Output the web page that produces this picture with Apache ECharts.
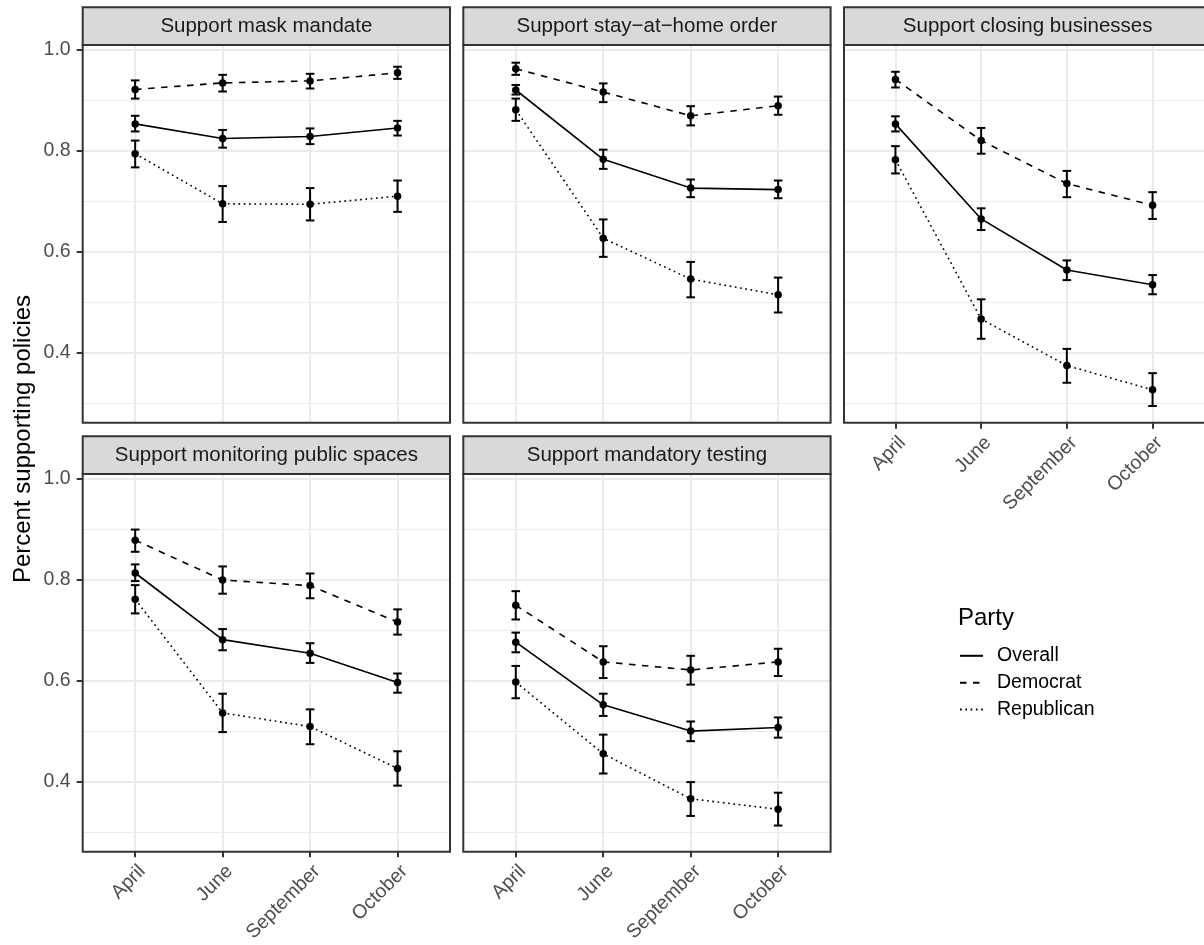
<!DOCTYPE html>
<html><head><meta charset="utf-8">
<script src="https://cdn.jsdelivr.net/npm/echarts@6/dist/echarts.min.js"></script>
<style>html,body{margin:0;padding:0;background:#fff;}#c{width:1204px;height:945px;}</style>
</head><body><div id="c"></div>
<script>
// ---------------- data ----------------
const months = ['April', 'June', 'September', 'October'];
const panelTitles = ['Support mask mandate', 'Support stay\u2212at\u2212home order', 'Support closing businesses',
  'Support monitoring public spaces', 'Support mandatory testing'];
const parties = ['Overall', 'Democrat', 'Republican'];
const yTicks = [0.4, 0.6, 0.8, 1.0];
const yMinorTicks = [0.3, 0.5, 0.7, 0.9];

// rows = panels (mask, stay-at-home, closing, monitoring, testing); columns = months
const overallMean = [
  [0.853, 0.824, 0.828, 0.845],
  [0.920, 0.783, 0.726, 0.723],
  [0.853, 0.665, 0.564, 0.535],
  [0.813, 0.681, 0.654, 0.596],
  [0.676, 0.552, 0.500, 0.507]];
const overallLow = [
  [0.838, 0.806, 0.813, 0.830],
  [0.911, 0.764, 0.708, 0.706],
  [0.838, 0.643, 0.544, 0.516],
  [0.797, 0.660, 0.635, 0.576],
  [0.656, 0.530, 0.480, 0.487]];
const overallHigh = [
  [0.869, 0.841, 0.844, 0.859],
  [0.930, 0.802, 0.743, 0.741],
  [0.868, 0.686, 0.583, 0.554],
  [0.830, 0.702, 0.674, 0.614],
  [0.695, 0.574, 0.519, 0.527]];
const demMean = [
  [0.921, 0.934, 0.938, 0.954],
  [0.962, 0.916, 0.869, 0.889],
  [0.941, 0.820, 0.735, 0.692],
  [0.878, 0.799, 0.788, 0.716],
  [0.749, 0.637, 0.621, 0.637]];
const demLow = [
  [0.903, 0.917, 0.923, 0.942],
  [0.950, 0.896, 0.850, 0.871],
  [0.925, 0.794, 0.708, 0.665],
  [0.855, 0.772, 0.763, 0.691],
  [0.721, 0.605, 0.592, 0.609]];
const demHigh = [
  [0.939, 0.950, 0.952, 0.966],
  [0.974, 0.933, 0.888, 0.907],
  [0.956, 0.845, 0.760, 0.718],
  [0.899, 0.826, 0.812, 0.741],
  [0.777, 0.668, 0.649, 0.663]];
const repMean = [
  [0.794, 0.695, 0.694, 0.710],
  [0.881, 0.627, 0.546, 0.515],
  [0.782, 0.467, 0.375, 0.327],
  [0.761, 0.536, 0.509, 0.426],
  [0.597, 0.455, 0.366, 0.345]];
const repLow = [
  [0.767, 0.659, 0.662, 0.679],
  [0.859, 0.590, 0.510, 0.480],
  [0.755, 0.428, 0.341, 0.295],
  [0.733, 0.498, 0.474, 0.392],
  [0.565, 0.416, 0.332, 0.313]];
const repHigh = [
  [0.820, 0.730, 0.726, 0.741],
  [0.903, 0.664, 0.580, 0.549],
  [0.809, 0.506, 0.408, 0.360],
  [0.789, 0.574, 0.543, 0.460],
  [0.629, 0.493, 0.399, 0.378]];

// ---------------- layout / style ----------------
const FONT = '"Liberation Sans", Arial, Helvetica, sans-serif';
const PW = 367.3, PH = 377.7, STRIP = 37.7;
const COLS = [82.7, 463.3, 844];
const ROWS = [45, 474];
const Y_MIN = 0.262, Y_MAX = 1.009;
const panelPos = [[0, 0], [0, 1], [0, 2], [1, 0], [1, 1]]; // [row, col]
const showXLab = [false, false, true, true, true];
const showYLab = [true, false, false, true, false];
const means = [overallMean, demMean, repMean];
const lows = [overallLow, demLow, repLow];
const highs = [overallHigh, demHigh, repHigh];
const dashes = ['solid', [6.5, 6.5], [1.7, 3.6]];

const grids = [], xAxes = [], yAxes = [], series = [], graphics = [];

panelPos.forEach(([r, c], p) => {
  const left = COLS[c], top = ROWS[r];
  grids.push({ left: left, top: top, width: PW, height: PH, show: false });
  xAxes.push({
    type: 'value', gridIndex: p, min: -0.6, max: 3.6, position: 'bottom',
    axisLine: { show: false, onZero: false },
    axisTick: { show: showXLab[p], customValues: [0, 1, 2, 3], length: 6, lineStyle: { color: '#333333', width: 2 } },
    axisLabel: {
      show: showXLab[p], customValues: [0, 1, 2, 3], rotate: 45, margin: 10,
      align: 'right', verticalAlign: 'top',
      formatter: v => months[Math.round(v)] || '',
      fontSize: 19.5, color: '#4D4D4D', fontFamily: FONT
    },
    splitLine: { show: true, lineStyle: { color: '#EBEBEB', width: 2 } }
  });
  // major y axis
  yAxes.push({
    type: 'value', gridIndex: p, min: Y_MIN, max: Y_MAX, position: 'left',
    axisLine: { show: false, onZero: false },
    axisTick: { show: showYLab[p], customValues: yTicks, length: 6, lineStyle: { color: '#333333', width: 2 } },
    axisLabel: {
      show: showYLab[p], customValues: yTicks, margin: 12,
      formatter: v => v.toFixed(1), fontSize: 19.5, color: '#4D4D4D', fontFamily: FONT
    },
    splitLine: { show: true, lineStyle: { color: '#EBEBEB', width: 2 } }
  });
  // minor y axis (grid only)
  yAxes.push({
    type: 'value', gridIndex: p, min: Y_MIN, max: Y_MAX, position: 'left',
    axisLine: { show: false, onZero: false },
    axisTick: { show: false, customValues: yMinorTicks },
    axisLabel: { show: false, customValues: yMinorTicks },
    splitLine: { show: true, lineStyle: { color: '#EBEBEB', width: 1 } }
  });

  parties.forEach((name, k) => {
    series.push({
      type: 'custom', name: name + ' CI', xAxisIndex: p, yAxisIndex: 2 * p, z: 3,
      data: months.map((m, i) => [i, lows[k][p][i], highs[k][p][i]]),
      encode: { x: 0, y: [1, 2] },
      renderItem: (params, api) => {
        const x = api.value(0);
        const a = api.coord([x, api.value(1)]);
        const b = api.coord([x, api.value(2)]);
        const hw = 4.3, st = { stroke: '#000', lineWidth: 2 };
        return {
          type: 'group', children: [
            { type: 'line', shape: { x1: a[0], y1: a[1], x2: b[0], y2: b[1] }, style: st },
            { type: 'line', shape: { x1: a[0] - hw, y1: a[1], x2: a[0] + hw, y2: a[1] }, style: st },
            { type: 'line', shape: { x1: b[0] - hw, y1: b[1], x2: b[0] + hw, y2: b[1] }, style: st }
          ]
        };
      }
    });
    series.push({
      type: 'line', name: name, xAxisIndex: p, yAxisIndex: 2 * p, z: 4,
      data: months.map((m, i) => [i, means[k][p][i]]),
      symbol: 'circle', symbolSize: 7.5, showSymbol: true,
      itemStyle: { color: '#000' },
      lineStyle: { color: '#000', width: 1.6, type: dashes[k] },
      emphasis: { disabled: true }
    });
  });

  // strip
  graphics.push({
    type: 'rect', z: 50,
    shape: { x: left, y: top - STRIP, width: PW, height: STRIP },
    style: { fill: '#D9D9D9', stroke: '#333333', lineWidth: 2 }
  });
  graphics.push({
    type: 'text', z: 51, x: left + PW / 2, y: top - STRIP / 2,
    style: { text: panelTitles[p], fill: '#1A1A1A', font: '20.5px ' + FONT, textAlign: 'center', textVerticalAlign: 'middle' }
  });
  // panel border
  graphics.push({
    type: 'rect', z: 50,
    shape: { x: left, y: top, width: PW, height: PH },
    style: { fill: 'none', stroke: '#333333', lineWidth: 2 }
  });
});

graphics.push({
  type: 'text', z: 51, x: 23.5, y: 439, rotation: Math.PI / 2,
  style: { text: 'Percent supporting policies', fill: '#000', font: '24px ' + FONT, textAlign: 'center', textVerticalAlign: 'middle' }
});
graphics.push({
  type: 'text', z: 51, x: 958, y: 618,
  style: { text: 'Party', fill: '#000', font: '24px ' + FONT, textAlign: 'left', textVerticalAlign: 'middle' }
});

const chart = echarts.init(document.getElementById('c'), null, { renderer: 'canvas' });
chart.setOption({
  animation: false,
  backgroundColor: '#FFFFFF',
  grid: grids, xAxis: xAxes, yAxis: yAxes, series: series,
  legend: {
    data: parties, orient: 'vertical', left: 954, top: 640.8, padding: 5,
    itemWidth: 23, itemHeight: 14, itemGap: 6.9, selectedMode: false,
    itemStyle: { opacity: 0 },
    textStyle: { fontSize: 19.5, color: '#000', fontFamily: FONT, padding: [0, 0, 0, 9] }
  },
  graphic: { elements: graphics }
});
</script></body></html>
